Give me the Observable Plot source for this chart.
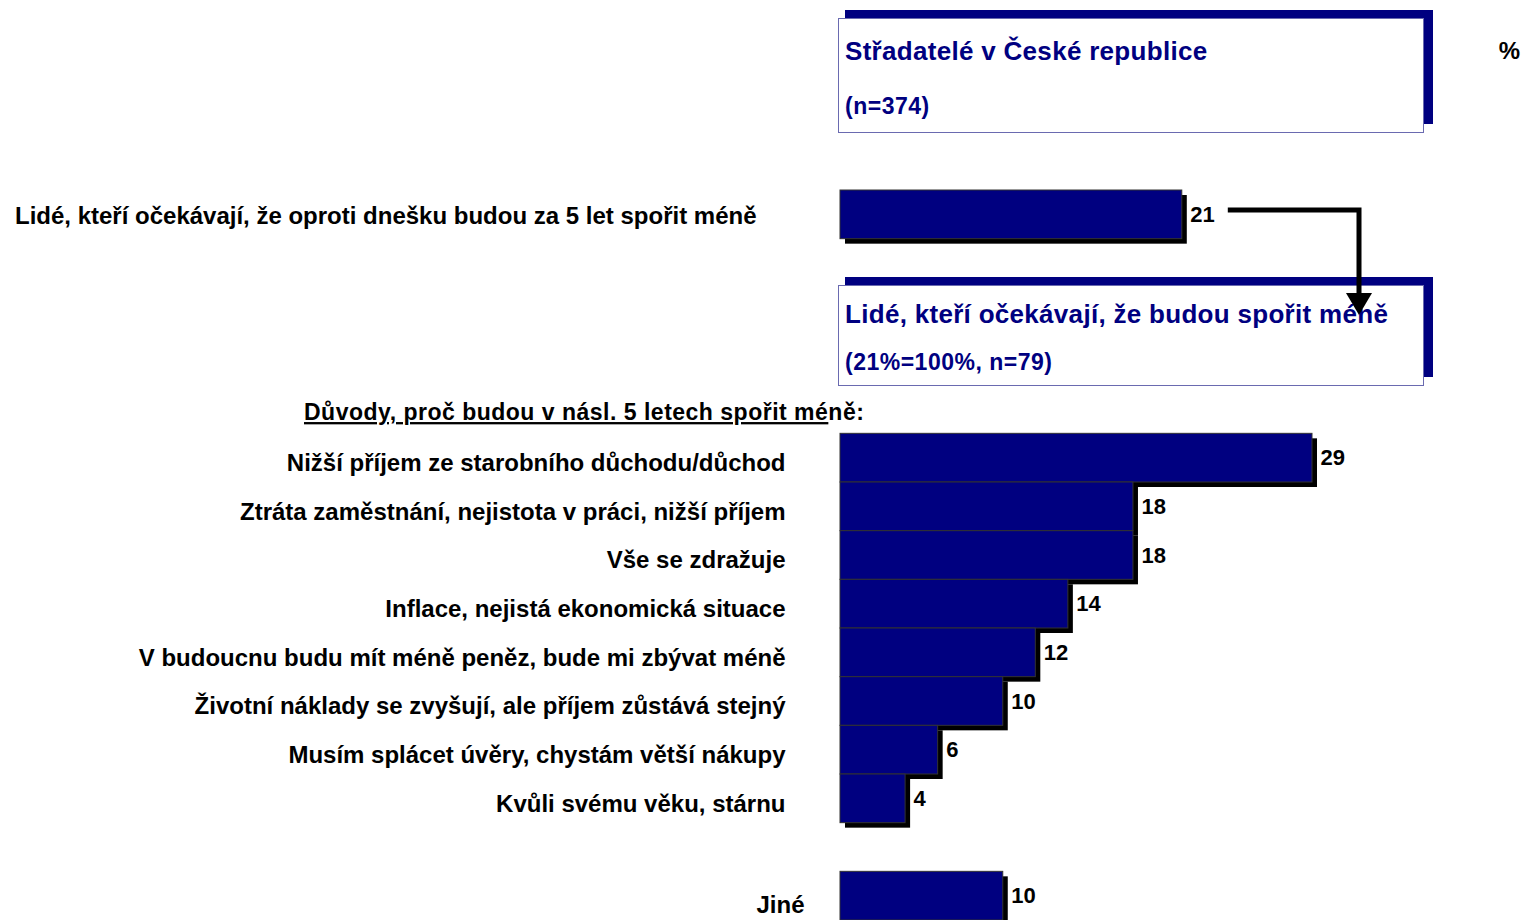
<!DOCTYPE html>
<html>
<head>
<meta charset="utf-8">
<script src="https://cdn.jsdelivr.net/npm/d3@7"></script>
<script src="https://cdn.jsdelivr.net/npm/@observablehq/plot@0.6"></script>
<style>
  html, body { margin: 0; padding: 0; background: #fff; }
  #chart { width: 1524px; height: 920px; overflow: hidden; }
  text.lbl { letter-spacing: 0.5px; }
</style>
</head>
<body>
<div id="chart"></div>
<script>
// ---- data ----
const topLabel = "Lidé, kteří očekávají, že oproti dnešku budou za 5 let spořit méně";
const topValue = 21;
const reasonLabels = [
  "Nižší příjem ze starobního důchodu/důchod",
  "Ztráta zaměstnání, nejistota v práci, nižší příjem",
  "Vše se zdražuje",
  "Inflace, nejistá ekonomická situace",
  "V budoucnu budu mít méně peněz, bude mi zbývat méně",
  "Životní náklady se zvyšují, ale příjem zůstává stejný",
  "Musím splácet úvěry, chystám větší nákupy",
  "Kvůli svému věku, stárnu"
];
const reasonValues = [29, 18, 18, 14, 12, 10, 6, 4];
const otherLabel = "Jiné";
const otherValue = 10;
const box1Title = "Střadatelé v České republice";
const box1Sub = "(n=374)";
const box2Title = "Lidé, kteří očekávají, že budou spořit méně";
const box2Sub = "(21%=100%, n=79)";
const reasonsHeader = "Důvody, proč budou v násl. 5 letech spořit méně:";
const unitLabel = "%";

// ---- table ----
const rows = [
  {key: topLabel, label: topLabel, value: topValue, group: "top"},
  ...reasonLabels.map((l, i) => ({key: l, label: l, value: reasonValues[i], group: "reason"})),
  {key: otherLabel, label: otherLabel, value: otherValue, group: "other"}
];
const yDomain = [topLabel, "_s1", "_s2", "_s3", "_s4", ...reasonLabels, "_s5", otherLabel];

const NAVY = "#000080";
const FONT = "'Liberation Sans', Arial, Helvetica, sans-serif";

const labelMark = (group, dx, dy) => Plot.text(rows.filter(d => d.group === group), {
  y: "key", text: "label", frameAnchor: "left", textAnchor: "end", dx, dy,
  fontSize: 24, fontWeight: "bold", fill: "black", className: "lbl"
});

const plot = Plot.plot({
  width: 1524, height: 920,
  marginLeft: 840, marginRight: 212, marginTop: 190, marginBottom: 0,
  x: {domain: [0, 29], axis: null},
  y: {domain: yDomain, axis: null, padding: 0, round: false},
  style: {fontFamily: FONT, background: "white", overflow: "visible"},
  marks: [
    Plot.barX(rows, {x: "value", y: "key", fill: "black", dx: 5, dy: 5}),
    Plot.barX(rows, {x: "value", y: "key", fill: NAVY, stroke: "#333", strokeWidth: 1}),
    Plot.text(rows, {x: "value", y: "key", text: d => String(d.value), textAnchor: "start",
      dx: 8, dy: 0, fontSize: 22, fontWeight: "bold", fill: "black"}),
    labelMark("top", -84, 1),
    labelMark("reason", -55, 5),
    labelMark("other", -36, 9)
  ]
});

document.getElementById("chart").appendChild(plot);

// ---- annotations ----
const svg = d3.select(plot);
const xs = plot.scale("x");
const deco = svg.insert("g", "g");
deco.attr("font-family", FONT).attr("font-weight", "bold").attr("text-anchor", "start");

function box(y0, y1, title, sub, tY, sY) {
  deco.append("rect").attr("x", 845).attr("y", y0).attr("width", 588).attr("height", y1 - y0 - 8).attr("fill", NAVY);
  deco.append("rect").attr("x", 838.5).attr("y", y0 + 8.5).attr("width", 585).attr("height", y1 - y0 - 8)
    .attr("fill", "white").attr("stroke", "#6a6ab0").attr("stroke-width", 1);
  deco.append("text").attr("x", 845).attr("y", tY).attr("dy", "0.35em").attr("font-size", 26)
    .attr("letter-spacing", "0.3px").attr("fill", NAVY).text(title);
  deco.append("text").attr("x", 845).attr("y", sY).attr("dy", "0.35em").attr("font-size", 23)
    .attr("letter-spacing", "0.5px").attr("fill", NAVY).text(sub);
}
box(10, 132, box1Title, box1Sub, 51, 106);
box(277, 385, box2Title, box2Sub, 314, 362);

deco.append("text").attr("x", 1520).attr("y", 51).attr("dy", "0.35em").attr("text-anchor", "end")
  .attr("font-size", 24).attr("fill", "black").text(unitLabel);

const hdr = deco.append("text").attr("x", 304).attr("y", 412).attr("dy", "0.35em")
  .attr("font-size", 23).attr("letter-spacing", "0.5px").attr("fill", "black");
hdr.append("tspan").attr("text-decoration", "underline").text(reasonsHeader.slice(0, -3));
hdr.append("tspan").text(reasonsHeader.slice(-3));

// arrow
const ax0 = xs.apply(topValue) + 46;
const ay = 210, ax1 = 1359, ayEnd = 293;
const arrow = svg.append("g");
arrow.append("path").attr("d", `M${ax0},${ay}H${ax1}V${ayEnd}`).attr("fill", "none")
  .attr("stroke", "black").attr("stroke-width", 5).attr("stroke-linejoin", "miter");
arrow.append("path").attr("d", `M${ax1 - 13},${ayEnd}L${ax1 + 13},${ayEnd}L${ax1},${ayEnd + 22}Z`).attr("fill", "black");
</script>
</body>
</html>
